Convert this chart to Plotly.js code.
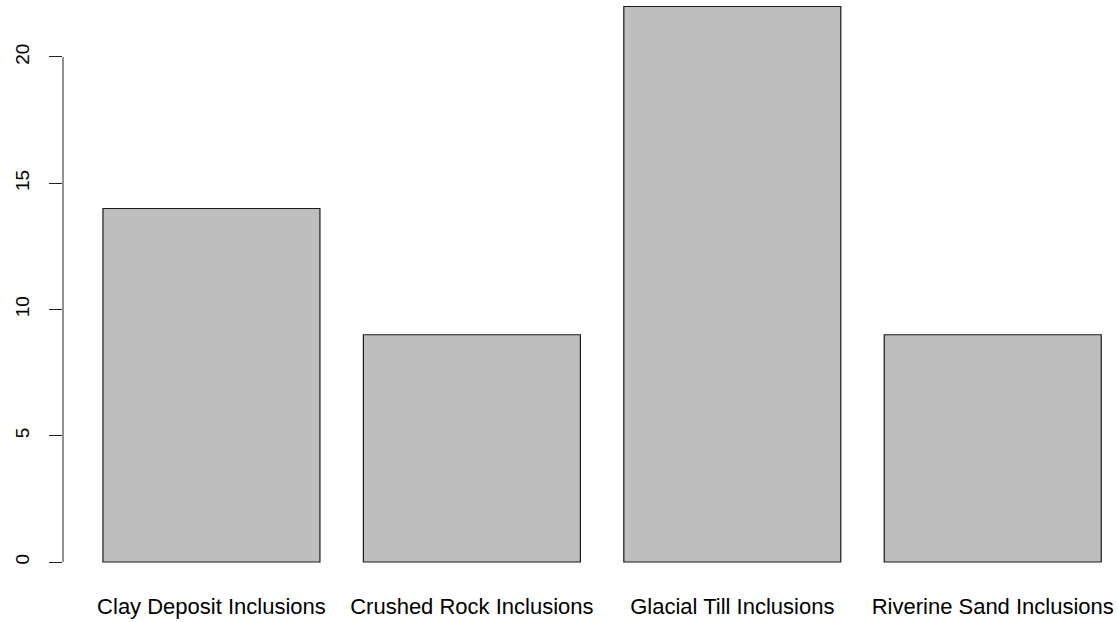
<!DOCTYPE html>
<html>
<head>
<meta charset="utf-8">
<script src="https://cdn.plot.ly/plotly-3.0.1.min.js"></script>
<style>html,body{margin:0;padding:0;background:#fff;}#chart{width:1118px;height:622px;}</style>
</head>
<body>
<div id="chart"></div>
<script>
const categories = ["Clay Deposit Inclusions", "Crushed Rock Inclusions", "Glacial Till Inclusions", "Riverine Sand Inclusions"];
const counts = [14, 9, 22, 9];
const yTicks = [0, 5, 10, 15, 20];

const trace = {
  type: 'bar',
  x: categories,
  y: counts,
  width: 0.8333,
  marker: {color: '#BEBEBE', line: {color: '#1a1a1a', width: 1.2}},
  hoverinfo: 'skip'
};

const layout = {
  width: 1118,
  height: 622,
  margin: {l: 63, r: 0, t: 0, b: 38, pad: 0},
  paper_bgcolor: '#ffffff',
  plot_bgcolor: '#ffffff',
  showlegend: false,
  font: {family: 'Liberation Sans, Arial, sans-serif', color: '#000000'},
  xaxis: {
    type: 'category',
    range: [-0.570, 3.481],
    showgrid: false,
    zeroline: false,
    showline: false,
    ticks: 'outside',
    ticklen: 3,
    tickcolor: 'rgba(0,0,0,0)',
    tickfont: {size: 22, family: 'Liberation Sans, Arial, sans-serif', color: '#000'},
    automargin: false
  },
  yaxis: {
    range: [-0.871, 22.257],
    tickvals: yTicks,
    ticktext: yTicks.map(String),
    showgrid: false,
    zeroline: false,
    showline: false,
    ticks: 'outside',
    ticklen: 13,
    tickwidth: 1,
    tickcolor: '#222222',
    tickangle: -90,
    ticklabelstandoff: 12,
    tickfont: {size: 19, family: 'Liberation Sans, Arial, sans-serif', color: '#000'},
    automargin: false
  },
  shapes: [{
    type: 'line', xref: 'paper', yref: 'y',
    x0: 0, x1: 0, y0: yTicks[0], y1: yTicks[yTicks.length - 1],
    line: {color: '#222222', width: 1}
  }]
};

Plotly.newPlot('chart', [trace], layout, {displayModeBar: false, staticPlot: true});
</script>
</body>
</html>
